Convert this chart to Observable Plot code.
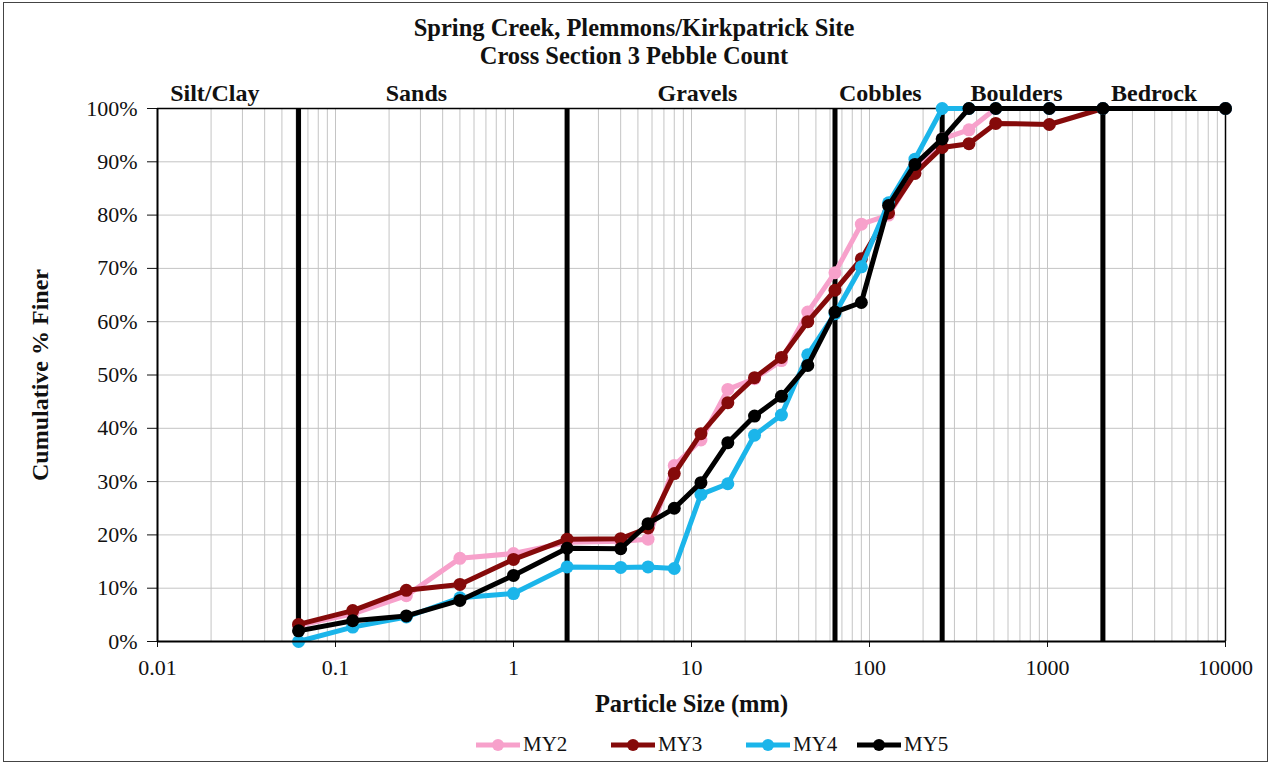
<!DOCTYPE html>
<html>
<head>
<meta charset="utf-8">
<script src="https://cdn.jsdelivr.net/npm/d3@7"></script>
<script src="https://cdn.jsdelivr.net/npm/@observablehq/plot@0.6"></script>
<style>
  html, body { margin: 0; padding: 0; background: #fff; }
  #wrap { position: relative; width: 1276px; height: 767px; font-family: "Liberation Serif", "Times New Roman", serif; }
  #border { position: absolute; left: 3px; top: 2px; width: 1265px; height: 760px; border: 1px solid #444; box-sizing: border-box; pointer-events: none; }
  #title { position: absolute; top: 14px; left: 0; width: 1268px; text-align: center; font-weight: bold; font-size: 24.5px; line-height: 28px; color: #111; }
  #chart { position: absolute; left: 0; top: 60px; }
  #legend { position: absolute; top: 732px; left: 0; width: 1276px; height: 26px; font-size: 21px; color: #111; }
  .item { position: absolute; top: 0; display: flex; align-items: center; }
  .item svg { margin-right: 2px; }
  #chart svg text { font-family: "Liberation Serif", "Times New Roman", serif; }
</style>
</head>
<body>
<div id="wrap">
  <div id="title">Spring Creek, Plemmons/Kirkpatrick Site<br>Cross Section 3 Pebble Count</div>
  <div id="chart"></div>
  <div id="legend"></div>
  <div id="border"></div>
</div>
<script>
// Particle sizes (mm)
const sizes = [0.062, 0.125, 0.25, 0.5, 1, 2, 4, 5.7, 8, 11.3, 16, 22.6, 32, 45, 64, 90, 128, 180, 256, 362, 512, 1024, 2048, 10000];

// Cumulative % finer per survey
const MY2 = [3, 5.2, 8.6, 15.6, 16.5, 18.6, 18.8, 19.2, 33, 37.8, 47.3, 49.3, 52.7, 61.8, 69.2, 78.3, 80, 88, 94.3, 96, 100, 100, 100, 100];
const MY3 = [3.2, 5.8, 9.6, 10.7, 15.4, 19.2, 19.3, 21.3, 31.5, 39, 44.8, 49.5, 53.3, 60, 65.9, 71.8, 80.4, 87.8, 92.7, 93.4, 97.2, 97, 100, 100];
const MY4 = [0, 2.7, 4.6, 8.2, 9, 14, 13.9, 14, 13.7, 27.6, 29.6, 38.7, 42.5, 53.8, 61.5, 70.3, 82.3, 90.5, 100, 100, 100, 100, 100, 100];
const MY5 = [2, 3.9, 4.8, 7.7, 12.4, 17.5, 17.4, 22.1, 25, 29.8, 37.3, 42.3, 46, 51.8, 61.8, 63.6, 81.8, 89.5, 94.3, 100, 100, 100, 100, 100];

const seriesNames = ["MY2", "MY3", "MY4", "MY5"];
const seriesValues = [MY2, MY3, MY4, MY5];
const seriesColors = ["#F7A1CB", "#850A0A", "#1BB5EA", "#000000"];

// Size-class boundaries (mm) and class labels
const boundaries = [0.062, 2, 64, 256, 2048];
const zoneNames = ["Silt/Clay", "Sands", "Gravels", "Cobbles", "Boulders", "Bedrock"];
const zoneLabelX = [0.021, 0.285, 10.8, 115, 670, 3970];

const xTicks = [0.01, 0.1, 1, 10, 100, 1000, 10000];
const yTicks = [0, 10, 20, 30, 40, 50, 60, 70, 80, 90, 100];

const data = [];
seriesNames.forEach((name, i) => {
  sizes.forEach((s, j) => data.push({series: name, size: s, pct: seriesValues[i][j]}));
});
const zones = zoneNames.map((n, i) => ({name: n, x: zoneLabelX[i]}));
const minorX = d3.scaleLog().domain([0.01, 10000]).ticks();

const lineMarks = [];
seriesNames.forEach((name, i) => {
  const d = data.filter(r => r.series === name);
  lineMarks.push(Plot.line(d, {x: "size", y: "pct", stroke: seriesColors[i], strokeWidth: 5, strokeLinejoin: "round"}));
  lineMarks.push(Plot.dot(d, {x: "size", y: "pct", fill: seriesColors[i], r: 6.5}));
});

const chart = Plot.plot({
  width: 1276,
  height: 660,
  marginTop: 48,
  marginBottom: 79,
  marginLeft: 157,
  marginRight: 51,
  style: {fontFamily: "Liberation Serif, Times New Roman, serif", fontSize: "22px", color: "#111", background: "transparent"},
  x: {type: "log", domain: [0.01, 10000]},
  y: {domain: [0, 100]},
  marks: [
    Plot.ruleX(minorX, {stroke: "#c4c4c4", strokeWidth: 1}),
    Plot.ruleY(yTicks.slice(1, -1), {stroke: "#c4c4c4", strokeWidth: 1}),
    Plot.ruleX(boundaries, {y1: 0, y2: 100, stroke: "#000", strokeWidth: 5}),
    Plot.ruleX([10000], {y1: 0, y2: 100, stroke: "#000", strokeWidth: 1.5}),
    Plot.ruleY([100], {stroke: "#000", strokeWidth: 1.5}),
    Plot.text(zones, {x: "x", text: "name", frameAnchor: "top", lineAnchor: "middle", textAnchor: "middle", dy: -15, fontWeight: "bold", fontSize: 24, fill: "#111"}),
    ...lineMarks,
    Plot.axisY(yTicks, {tickFormat: d => d + "%", tickSize: 10, tickPadding: 10, label: null, fontSize: 22}),
    Plot.axisX(xTicks, {tickFormat: d => String(d), tickSize: 6, tickPadding: 12, label: null, fontSize: 22}),
    Plot.ruleY([0], {stroke: "#000", strokeWidth: 2}),
    Plot.ruleX([0.01], {y1: 0, y2: 100, stroke: "#000", strokeWidth: 2}),
    Plot.text(["Particle Size (mm)"], {frameAnchor: "bottom", lineAnchor: "middle", textAnchor: "middle", dy: 63, fontWeight: "bold", fontSize: 24.5, fill: "#111"}),
    Plot.text(["Cumulative % Finer"], {frameAnchor: "left", lineAnchor: "middle", textAnchor: "middle", dx: -117, rotate: -90, fontWeight: "bold", fontSize: 24, fill: "#111"})
  ]
});
document.getElementById("chart").appendChild(chart);

const legend = document.getElementById("legend");
const legendLeft = [475, 610, 745, 856];
seriesNames.forEach((name, i) => {
  const item = document.createElement("div");
  item.className = "item";
  item.style.left = legendLeft[i] + "px";
  item.innerHTML = `<svg width="46" height="14"><line x1="1" y1="7" x2="45" y2="7" stroke="${seriesColors[i]}" stroke-width="5"/><circle cx="23" cy="7" r="6" fill="${seriesColors[i]}"/></svg><span>${name}</span>`;
  legend.appendChild(item);
});
</script>
</body>
</html>
